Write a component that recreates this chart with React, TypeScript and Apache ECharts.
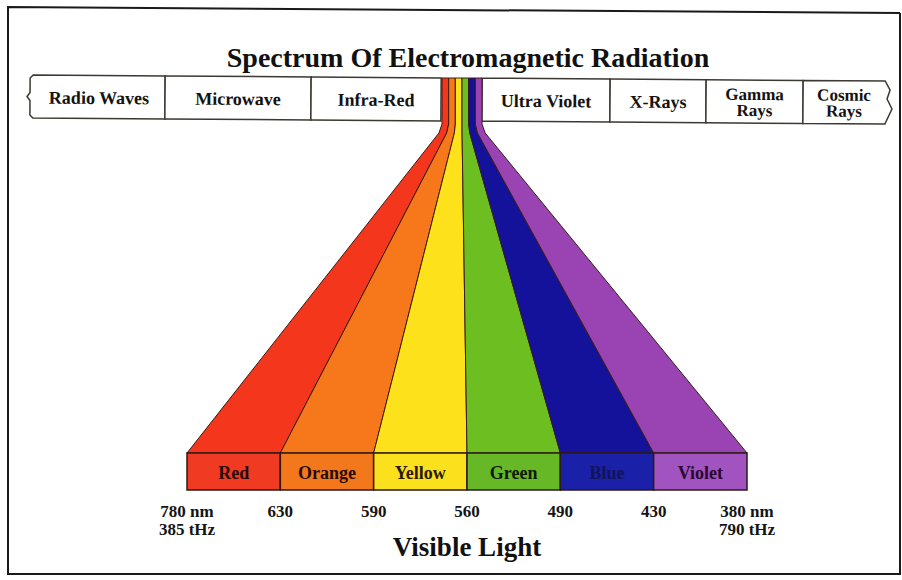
import React, { useEffect, useRef } from 'react';
import * as echarts from 'echarts';

// ---- data ----
const visibleBands = ['Red', 'Orange', 'Yellow', 'Green', 'Blue', 'Violet'];
const wavelengthLabels = ['780 nm\n385 tHz', '630', '590', '560', '490', '430', '380 nm\n790 tHz'];
const spectrumRegions = ['Radio Waves', 'Microwave', 'Infra-Red', '', 'Ultra Violet', 'X-Rays', 'Gamma\nRays', 'Cosmic\nRays'];
const titleText = 'Spectrum Of Electromagnetic Radiation';
const subtitleText = 'Visible Light';

// ---- styles ----
const fanColors = ['#f4361d', '#f7781b', '#fde21b', '#6cbe21', '#14129a', '#9a44b4'];
const boxColors = ['#f03a22', '#f3781c', '#fbe01d', '#66b826', '#1a20a8', '#a153c0'];
const boxLabelColors = ['#2a0805', '#2a0a05', '#2a1a04', '#0c1a05', '#10145a', '#2a0830'];
const SERIF = '"Liberation Serif", "DejaVu Serif", serif';

// ---- layout ----
const regionEdges = [33, 165, 311, 441, 482, 610, 706, 803, 885];
const BAND_TOP = 78;
const BAND_BOTTOM = 121;
const STRIP_LEFT = 442;
const STRIP_RIGHT = 482;
const BOX_TOP = 453;

function buildBand(): any[] {
  const children: any[] = [];
  const cellStyle = { fill: '#ffffff', stroke: '#3c3832', lineWidth: 1.5 };
  const T = BAND_TOP;
  const B = BAND_BOTTOM;
  const M = (T + B) / 2;
  spectrumRegions.forEach((name, i) => {
    const x0 = regionEdges[i];
    const x1 = regionEdges[i + 1];
    if (!name) return;
    let pts: number[][];
    if (i === 0) {
      pts = [[x1, T], [x0, T], [x0 - 3, T + 3], [x0 - 3, M - 4], [x0 - 6, M], [x0 - 3, M + 4], [x0 - 3, B - 3], [x0, B], [x1, B]];
    } else if (i === spectrumRegions.length - 1) {
      pts = [[x0, T], [x1, T], [x1 + 5, T + 9], [x1 + 2, T + 18], [x1 + 7, T + 28], [x1, B], [x0, B]];
    } else {
      pts = [[x0, T], [x1, T], [x1, B], [x0, B]];
    }
    children.push({ type: 'polygon', shape: { points: pts }, style: cellStyle });
    const lines = name.split('\n');
    children.push({
      type: 'text',
      x: (x0 + x1) / 2,
      y: M + 1,
      style: {
        text: name,
        font: (lines.length > 1 ? '600 17px ' : 'bold 18px ') + SERIF,
        lineHeight: 16,
        fill: '#141210',
        align: 'center',
        verticalAlign: 'middle',
        textAlign: 'center',
        textVerticalAlign: 'middle',
      },
    });
  });
  return children;
}

export default function App() {
  const ref = useRef<HTMLDivElement>(null);

  useEffect(() => {
    if (!ref.current) return;
    const chart = echarts.init(ref.current, undefined, { renderer: 'svg' });
    const n = visibleBands.length;

    const option: any = {
      animation: false,
      backgroundColor: '#ffffff',
      title: {
        text: titleText,
        left: 468,
        top: 43,
        padding: 0,
        textAlign: 'center',
        textStyle: { fontFamily: SERIF, fontWeight: 'bold', fontSize: 28, color: '#111111' },
      },
      grid: { left: 187, right: 155, top: BAND_TOP, bottom: 90, containLabel: false },
      xAxis: {
        type: 'value',
        min: 0,
        max: n,
        interval: 1,
        name: subtitleText,
        nameLocation: 'middle',
        nameGap: 57,
        nameMoveOverlap: false,
        nameTextStyle: {
          fontFamily: SERIF,
          fontWeight: 'bold',
          fontSize: 27,
          color: '#111111',
          verticalAlign: 'middle',
        },
        axisLine: { show: false },
        axisTick: { show: false },
        splitLine: { show: false },
        axisLabel: {
          show: true,
          showMinLabel: true,
          showMaxLabel: true,
          margin: 12,
          fontFamily: SERIF,
          fontWeight: 'bold',
          fontSize: 17,
          lineHeight: 18,
          color: '#151515',
          formatter: (v: number) => wavelengthLabels[Math.round(v)] ?? '',
        },
      },
      yAxis: { type: 'value', min: 0, max: 1, show: false },
      series: [
        {
          type: 'custom',
          coordinateSystem: 'cartesian2d',
          data: visibleBands.map((_, i) => [i, i + 1]),
          encode: { x: [0, 1] },
          renderItem: (params: any, api: any) => {
            const i0 = api.value(0);
            const i1 = api.value(1);
            const idx = params.dataIndex;
            const p0 = api.coord([i0, 0]);
            const p1 = api.coord([i1, 0]);
            const xb0 = p0[0];
            const xb1 = p1[0];
            const yb = p0[1];
            const sw = (STRIP_RIGHT - STRIP_LEFT) / n;
            const xt0 = STRIP_LEFT + i0 * sw;
            const xt1 = STRIP_LEFT + i1 * sw;
            const bend = BAND_BOTTOM + 3;
            const yMid = bend + 9;
            const f = 0.012;
            const fanPts = [
              [xt0, BAND_TOP],
              [xt1, BAND_TOP],
              [xt1, bend],
              [xt1 + (xb1 - xt1) * f, yMid],
              [xb1, BOX_TOP],
              [xb0, BOX_TOP],
              [xt0 + (xb0 - xt0) * f, yMid],
              [xt0, bend],
            ];
            return {
              type: 'group',
              children: [
                {
                  type: 'polygon',
                  shape: { points: fanPts },
                  style: { fill: fanColors[idx], stroke: '#3a1c14', lineWidth: 1 },
                },
                {
                  type: 'rect',
                  shape: { x: xb0, y: BOX_TOP, width: xb1 - xb0, height: yb - BOX_TOP },
                  style: { fill: boxColors[idx], stroke: '#2e1a16', lineWidth: 1.5 },
                },
                {
                  type: 'text',
                  x: (xb0 + xb1) / 2,
                  y: (BOX_TOP + yb) / 2 + 1,
                  style: {
                    text: visibleBands[idx],
                    font: 'bold 18px ' + SERIF,
                    fill: boxLabelColors[idx],
                    align: 'center',
                    verticalAlign: 'middle',
                    textAlign: 'center',
                    textVerticalAlign: 'middle',
                  },
                },
              ],
            };
          },
        },
      ],
      graphic: [
        {
          type: 'group',
          x: 0,
          y: 0,
          rotation: -0.007,
          originX: 458,
          originY: 100,
          z: 10,
          children: buildBand(),
        },
        {
          type: 'polyline',
          z: 20,
          shape: { points: [[900, 13], [8, 7], [8, 574], [900, 574], [900, 13]] },
          style: { stroke: '#1a1a1a', lineWidth: 2, fill: null },
        },
      ],
    };

    chart.setOption(option);
    return () => chart.dispose();
  }, []);

  return (
    <div
      ref={ref}
      style={{ position: 'fixed', left: 0, top: 0, width: 902, height: 580, background: '#fff' }}
    />
  );
}
